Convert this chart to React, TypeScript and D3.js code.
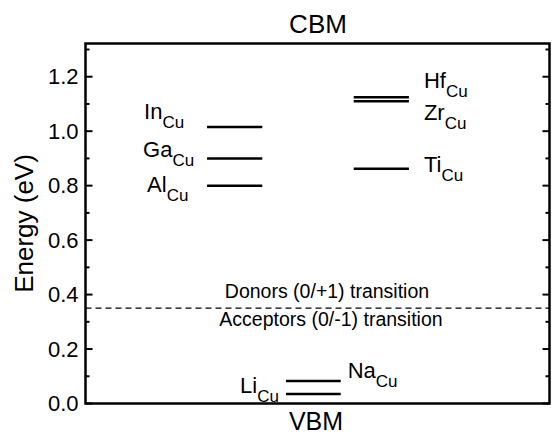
import React from "react";
import * as d3 from "d3";

// Defect transition levels (eV above the VBM)
const defects = ["In", "Ga", "Al", "Hf", "Zr", "Ti", "Li", "Na"];
const levels = [1.015, 0.9, 0.8, 1.125, 1.11, 0.862, 0.035, 0.083];
const groups = ["III", "III", "III", "IV", "IV", "IV", "I", "I"];
const site = "Cu";

// Donor / acceptor separation
const boundary = 0.35;
const donorText = "Donors (0/+1) transition";
const acceptorText = "Acceptors (0/-1) transition";

const majorTicks = [0, 0.2, 0.4, 0.6, 0.8, 1.0, 1.2];
const minorTicks = [0.1, 0.3, 0.5, 0.7, 0.9, 1.1, 1.3];
const yDomain = [0, 1.322];

const W = 553;
const H = 437;
const M = { left: 85.5, right: 3.5, top: 43.5, bottom: 33.5 };
const FONT = "'Liberation Sans', Arial, Helvetica, sans-serif";

// horizontal placement of each group's level bars (fraction of plot width)
const groupSpan: Record<string, [number, number]> = {
  III: [0.262, 0.381],
  I: [0.432, 0.55],
  IV: [0.578, 0.697],
};

// label placement relative to each bar: side, dx (px), baseline dy (px)
const labelPlace: [string, number, number][] = [
  ["before", -63, -8],
  ["before", -64, -1],
  ["before", -60, 6],
  ["after", 15, -9],
  ["after", 15, 19],
  ["after", 15, 3],
  ["end", -7, -1],
  ["after", 7, -3],
];

export default function App() {
  const iw = W - M.left - M.right;
  const ih = H - M.top - M.bottom;
  const x = d3.scaleLinear().domain([0, 1]).range([M.left, M.left + iw]);
  const y = d3.scaleLinear().domain(yDomain).range([M.top + ih, M.top]);

  const mainSize = 22;
  const subSize = 17;

  return (
    <svg
      width={W}
      height={H}
      style={{ position: "absolute", left: 0, top: 0, background: "#fff" }}
      fontFamily={FONT}
    >
      {/* dashed separation line */}
      <line
        x1={x(0)}
        x2={x(1)}
        y1={y(boundary)}
        y2={y(boundary)}
        stroke="#000"
        strokeWidth={1.2}
        strokeDasharray="6,4"
      />
      <text x={327} y={y(boundary) - 10} fontSize={19.5} textAnchor="middle">
        {donorText}
      </text>
      <text x={331} y={y(boundary) + 18} fontSize={19.5} textAnchor="middle">
        {acceptorText}
      </text>

      {/* level bars and labels */}
      {defects.map((d, i) => {
        const [a, b] = groupSpan[groups[i]];
        const x1 = x(a);
        const x2 = x(b);
        const yy = y(levels[i]);
        const [side, dx, dy] = labelPlace[i];
        let tx = x1 + dx;
        let anchor = "start";
        if (side === "after") tx = x2 + dx;
        if (side === "end") {
          tx = x1 + dx;
          anchor = "end";
        }
        return (
          <g key={d}>
            <line x1={x1} x2={x2} y1={yy} y2={yy} stroke="#000" strokeWidth={2.5} />
            <text x={tx} y={yy + dy} fontSize={mainSize} textAnchor={anchor}>
              {d}
              <tspan fontSize={subSize} dy={9}>
                {site}
              </tspan>
            </text>
          </g>
        );
      })}

      {/* ticks: left and right, inward */}
      {majorTicks.map((t) => (
        <g key={"M" + t}>
          <line x1={M.left} x2={M.left + 7} y1={y(t)} y2={y(t)} stroke="#000" strokeWidth={2} />
          <line x1={M.left + iw} x2={M.left + iw - 7} y1={y(t)} y2={y(t)} stroke="#000" strokeWidth={2} />
          <text
            x={M.left - 7}
            y={y(t)}
            fontSize={22}
            textAnchor="end"
            dominantBaseline="central"
          >
            {d3.format(".1f")(t)}
          </text>
        </g>
      ))}
      {minorTicks.map((t) => (
        <g key={"m" + t}>
          <line x1={M.left} x2={M.left + 4} y1={y(t)} y2={y(t)} stroke="#000" strokeWidth={2} />
          <line x1={M.left + iw} x2={M.left + iw - 4} y1={y(t)} y2={y(t)} stroke="#000" strokeWidth={2} />
        </g>
      ))}

      {/* frame */}
      <rect
        x={M.left}
        y={M.top}
        width={iw}
        height={ih}
        fill="none"
        stroke="#000"
        strokeWidth={2.5}
      />

      {/* band edge labels */}
      <text x={318} y={33} fontSize={26} textAnchor="middle">
        CBM
      </text>
      <text x={316} y={430} fontSize={25} textAnchor="middle">
        VBM
      </text>

      {/* axis title */}
      <text
        transform={`translate(33, ${M.top + ih / 2}) rotate(-90)`}
        fontSize={26}
        textAnchor="middle"
      >
        Energy (eV)
      </text>
    </svg>
  );
}
